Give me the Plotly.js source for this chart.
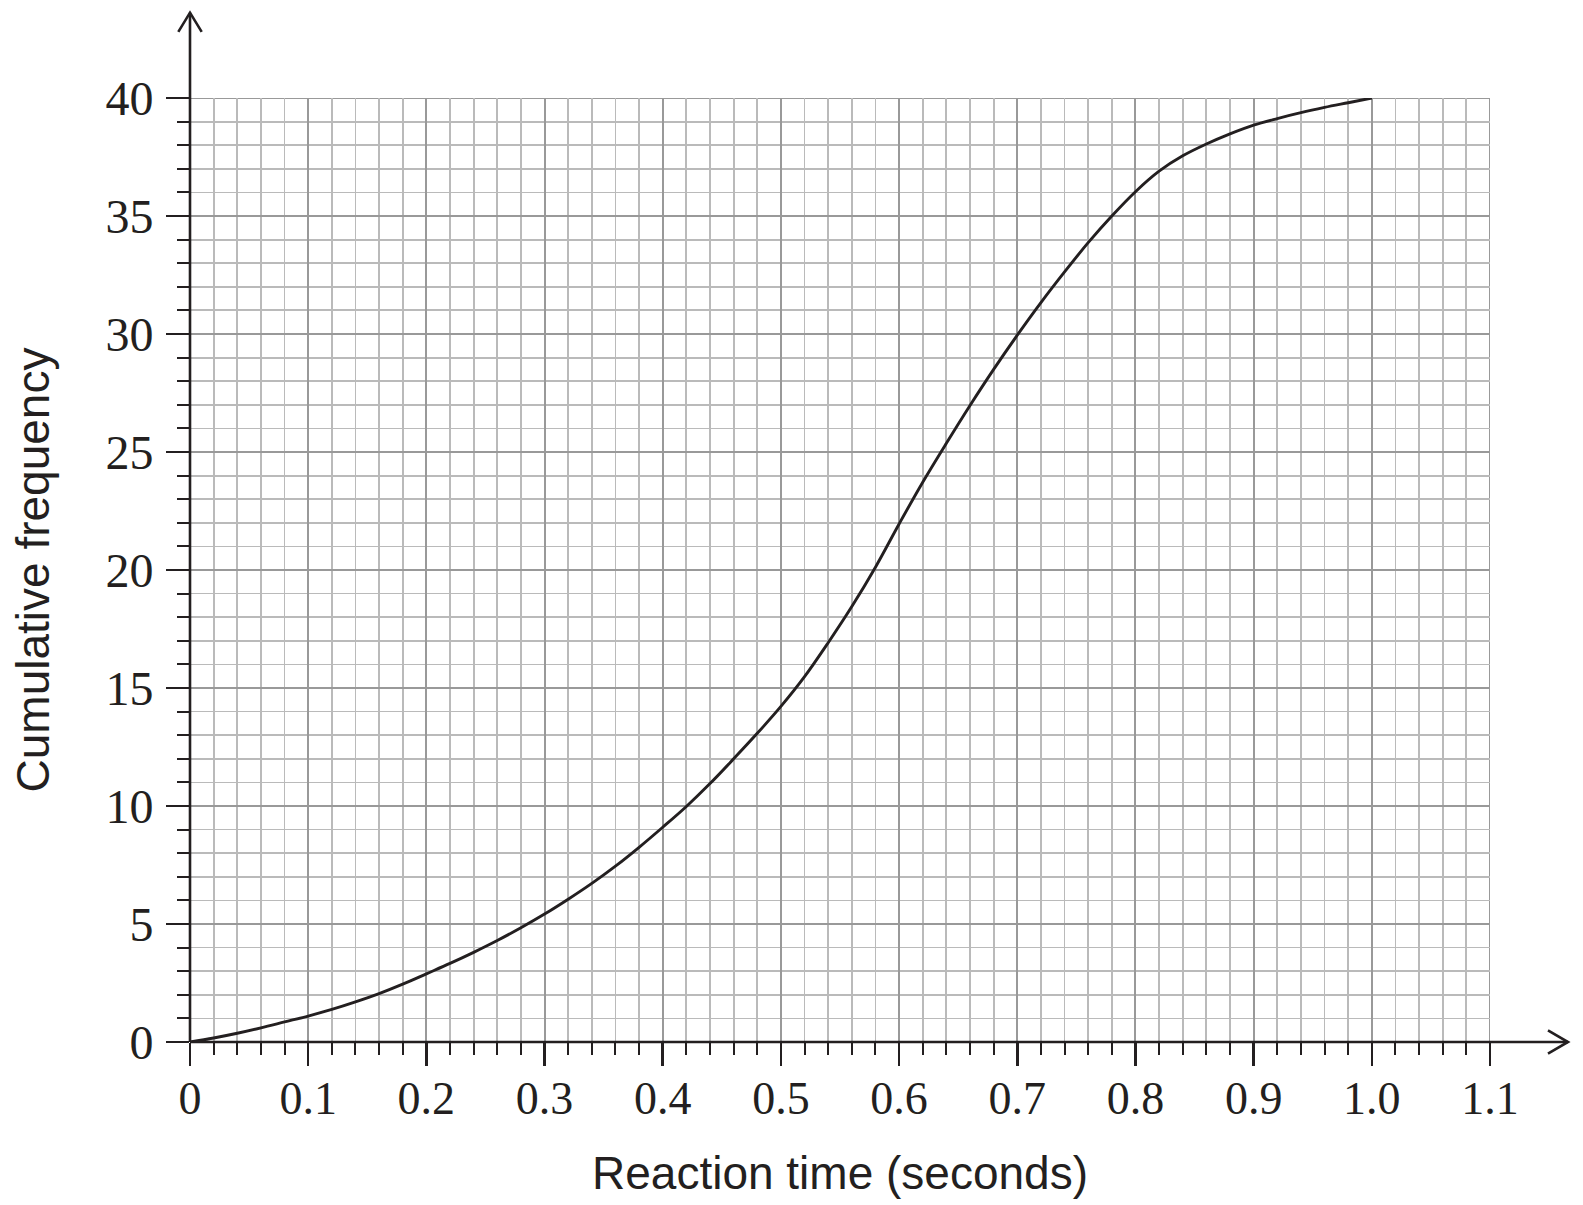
<!DOCTYPE html>
<html>
<head>
<meta charset="utf-8">
<script src="https://cdn.plot.ly/plotly-3.0.1.min.js"></script>
<style>html,body{margin:0;padding:0;background:#fff;}#chart{width:1583px;height:1205px;}</style>
</head>
<body>
<div id="chart"></div>
<script>
// Reaction time (seconds) every 0.02 s
var reactionTime = [0,0.02,0.04,0.06,0.08,0.1,0.12,0.14,0.16,0.18,0.2,0.22,0.24,0.26,0.28,0.3,0.32,0.34,0.36,0.38,0.4,0.42,0.44,0.46,0.48,0.5,0.52,0.54,0.56,0.58,0.6,0.62,0.64,0.66,0.68,0.7,0.72,0.74,0.76,0.78,0.8,0.82,0.84,0.86,0.88,0.9,0.92,0.94,0.96,0.98,1.0];
var cumulativeFrequency = [0,0.17,0.37,0.6,0.85,1.1,1.38,1.7,2.05,2.45,2.89,3.33,3.8,4.3,4.84,5.42,6.05,6.72,7.45,8.25,9.1,9.98,10.95,12.0,13.08,14.22,15.48,16.92,18.45,20.12,21.95,23.72,25.37,26.97,28.5,29.95,31.33,32.63,33.87,35.0,36.03,36.9,37.55,38.05,38.48,38.85,39.13,39.38,39.6,39.8,40];
var xTickValues = [0,0.1,0.2,0.3,0.4,0.5,0.6,0.7,0.8,0.9,1.0,1.1];
var xTickLabels = ["0","0.1","0.2","0.3","0.4","0.5","0.6","0.7","0.8","0.9","1.0","1.1"];
var yTickValues = [0,5,10,15,20,25,30,35,40];
var yTickLabels = ["0","5","10","15","20","25","30","35","40"];
var xTitle = "Reaction time (seconds)";
var yTitle = "Cumulative frequency";
var xMax = 1.1;
var yMax = 40;

var ink = "#231f20";
var majorGrid = "#999999";
var minorGrid = "#bababa";
var serif = "Liberation Serif, Times New Roman, serif";
var xTickFont = {family: serif, size: 46, color: ink};
var yTickFont = {family: serif, size: 48, color: ink};
var titleFont = {family: "Liberation Sans, Arial, sans-serif", size: 46, color: ink};

var trace = {
  x: reactionTime,
  y: cumulativeFrequency,
  type: "scatter",
  mode: "lines",
  line: {color: ink, width: 2.9, shape: "spline", smoothing: 1},
  hoverinfo: "skip",
  showlegend: false
};

var layout = {
  width: 1583,
  height: 1205,
  margin: {l: 190, r: 93, t: 98, b: 163},
  paper_bgcolor: "#ffffff",
  plot_bgcolor: "#ffffff",
  showlegend: false,
  xaxis: {
    range: [0, xMax],
    tickmode: "array",
    tickvals: xTickValues,
    ticktext: xTickLabels,
    ticks: "outside",
    ticklen: 23,
    tickwidth: 2.5,
    tickcolor: ink,
    tickfont: xTickFont,
    ticklabelstandoff: -7,
    showgrid: true,
    gridcolor: majorGrid,
    gridwidth: 2,
    zeroline: false,
    showline: false,
    minor: {dtick: 0.02, tick0: 0, showgrid: true, gridcolor: minorGrid, gridwidth: 1.8, ticks: "outside", ticklen: 12, tickwidth: 2, tickcolor: ink},
    title: {text: xTitle, font: titleFont, standoff: 33},
    automargin: false,
    fixedrange: true
  },
  yaxis: {
    range: [0, yMax],
    tickmode: "array",
    tickvals: yTickValues,
    ticktext: yTickLabels,
    ticks: "outside",
    ticklen: 23,
    tickwidth: 2.5,
    tickcolor: ink,
    tickfont: yTickFont,
    ticklabelstandoff: 3,
    showgrid: true,
    gridcolor: majorGrid,
    gridwidth: 2,
    zeroline: false,
    showline: false,
    minor: {dtick: 1, tick0: 0, showgrid: true, gridcolor: minorGrid, gridwidth: 1.8, ticks: "outside", ticklen: 12, tickwidth: 2, tickcolor: ink},
    title: {text: yTitle, font: titleFont, standoff: 41},
    automargin: false,
    fixedrange: true
  },
  shapes: [
    // grid lines on the top and right edges of the grid
    {type: "line", xref: "x", yref: "y", x0: 0, y0: yMax, x1: xMax, y1: yMax, line: {color: majorGrid, width: 2}, layer: "below"},
    {type: "line", xref: "x", yref: "y", x0: xMax, y0: 0, x1: xMax, y1: yMax, line: {color: majorGrid, width: 2}, layer: "below"},
    // x axis line with arrow
    {type: "line", xref: "paper", yref: "paper", x0: 0, y0: 0, x1: 1.06, y1: 0, line: {color: ink, width: 2.6}, layer: "above"},
    {type: "path", xref: "paper", yref: "paper", path: "M 1.0446 0.0122 L 1.06 0 L 1.0446 -0.0122", line: {color: ink, width: 2.6}, layer: "above"},
    // y axis line with arrow
    {type: "line", xref: "paper", yref: "paper", x0: 0, y0: 0, x1: 0, y1: 1.0904, line: {color: ink, width: 2.6}, layer: "above"},
    {type: "path", xref: "paper", yref: "paper", path: "M -0.009 1.07 L 0 1.0904 L 0.009 1.07", line: {color: ink, width: 2.6}, layer: "above"}
  ]
};

Plotly.newPlot("chart", [trace], layout, {staticPlot: true, displayModeBar: false});
</script>
</body>
</html>
